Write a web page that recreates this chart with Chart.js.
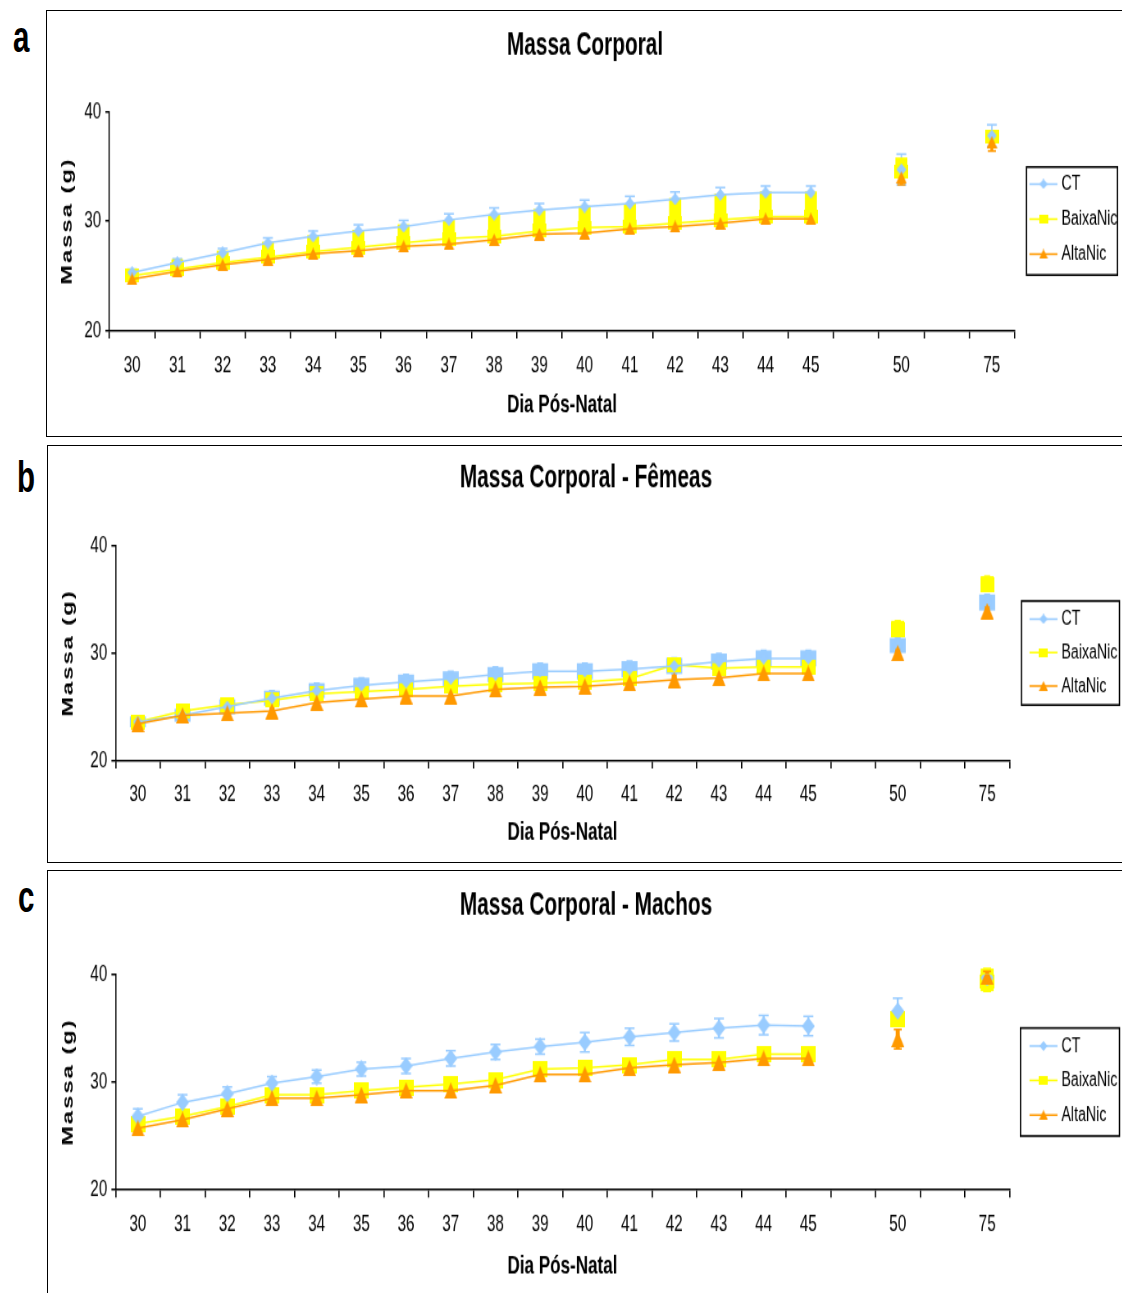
<!DOCTYPE html>
<html>
<head>
<meta charset="utf-8">
<title>Massa Corporal</title>
<script src="https://cdn.jsdelivr.net/npm/chart.js@4.4.0/dist/chart.umd.min.js"></script>
<style>
  html, body { margin: 0; padding: 0; background: #fff; overflow: hidden; }
  body { width: 1122px; height: 1293px; position: relative; font-family: "Liberation Sans", Arial, sans-serif; }
  .panel { position: absolute; width: 1076px; border: 1.5px solid #000; background: #fff; overflow: hidden; }
  /* o gráfico é desenhado largo e comprimido na horizontal (letra estreita) */
  .stretch { transform: scale(0.8201, 1.25); transform-origin: 0 0; }
  .tag { position: absolute; font-weight: bold; font-size: 36px; line-height: 36px; transform: scale(0.82, 1.25); transform-origin: 0 0; }
</style>
</head>
<body>
<div class="tag" style="left:13px; top:14px;">a</div>
<div class="tag" style="left:17px; top:454px;">b</div>
<div class="tag" style="left:18px; top:874px;">c</div>

<div class="panel" style="left:46px; top:10px; height:425px;">
  <div class="stretch"><canvas id="chartGeral" width="1312" height="340"></canvas></div>
</div>
<div class="panel" style="left:47px; top:445px; height:416px;">
  <div class="stretch"><canvas id="chartFemeas" width="1312" height="333"></canvas></div>
</div>
<div class="panel" style="left:47px; top:870px; height:430px;">
  <div class="stretch"><canvas id="chartMachos" width="1312" height="344"></canvas></div>
</div>

<script>
// dias pós-natal (categorias vazias separam 45, 50 e 75)
const dias = ['30', '31', '32', '33', '34', '35', '36', '37', '38', '39', '40', '41', '42', '43', '44', '45', '', '50', '', '75'];
const series = ['CT', 'BaixaNic', 'AltaNic'];

// a - todos os animais (média e erro)
const ctGeral = [25.3, 26.2, 27.1, 28.0, 28.6, 29.1, 29.5, 30.1, 30.6, 31.0, 31.3, 31.6, 32.0, 32.4, 32.6, 32.6, null, 34.7, null, 37.8];
const ctGeralErr = [0.3, 0.35, 0.4, 0.45, 0.5, 0.55, 0.55, 0.55, 0.6, 0.6, 0.6, 0.65, 0.65, 0.65, 0.6, 0.6, null, 1.4, null, 1.0];
const baixaGeral = [25.0, 25.6, 26.2, 26.7, 27.2, 27.6, 28.0, 28.4, 28.6, 29.1, 29.4, 29.5, 29.8, 30.1, 30.4, 30.4, null, 34.5, null, 37.7];
const baixaGeralErr = [0.4, 0.9, 1.1, 1.4, 1.5, 1.6, 1.7, 1.7, 2.0, 2.0, 2.0, 2.1, 2.3, 2.4, 2.3, 2.3, null, 1.3, null, 0.5];
const altaGeral = [24.7, 25.4, 26.0, 26.5, 27.0, 27.3, 27.7, 27.9, 28.3, 28.8, 28.9, 29.3, 29.5, 29.8, 30.2, 30.2, null, 34.0, null, 37.2];
const altaGeralErr = [0.35, 0.35, 0.35, 0.4, 0.4, 0.4, 0.4, 0.4, 0.4, 0.45, 0.45, 0.45, 0.45, 0.45, 0.45, 0.45, null, 0.7, null, 0.8];

// b - fêmeas
const ctFemeas = [23.6, 24.2, 25.0, 25.8, 26.5, 27.0, 27.3, 27.6, 28.0, 28.3, 28.3, 28.5, 28.8, 29.2, 29.5, 29.5, null, 30.7, null, 34.7];
const ctFemeasErr = [0.5, 0.6, 0.7, 0.7, 0.7, 0.7, 0.7, 0.7, 0.7, 0.75, 0.75, 0.75, 0.75, 0.75, 0.75, 0.75, null, 0.7, null, 0.75];
const baixaFemeas = [23.6, 24.6, 25.2, 25.6, 26.2, 26.4, 26.6, 26.9, 27.1, 27.2, 27.3, 27.6, 28.9, 28.6, 28.7, 28.7, null, 32.2, null, 36.3];
const baixaFemeasErr = [0.35, 0.4, 0.4, 0.4, 0.4, 0.4, 0.4, 0.4, 0.4, 0.4, 0.4, 0.4, 0.4, 0.4, 0.4, 0.4, null, 0.8, null, 0.85];
const altaFemeas = [23.4, 24.2, 24.4, 24.6, 25.4, 25.7, 26.0, 26.0, 26.6, 26.8, 26.9, 27.2, 27.5, 27.7, 28.1, 28.1, null, 30.0, null, 33.9];
const altaFemeasErr = [0.5, 0.5, 0.5, 0.5, 0.5, 0.5, 0.5, 0.5, 0.5, 0.5, 0.5, 0.5, 0.5, 0.5, 0.5, 0.5, null, 0.5, null, 0.5];

// c - machos
const ctMachos = [26.8, 28.1, 28.9, 29.9, 30.5, 31.2, 31.5, 32.2, 32.8, 33.3, 33.7, 34.2, 34.6, 35.0, 35.3, 35.2, null, 36.6, null, 39.7];
const ctMachosErr = [0.7, 0.7, 0.65, 0.6, 0.6, 0.65, 0.7, 0.7, 0.7, 0.7, 0.9, 0.8, 0.8, 0.9, 0.9, 0.9, null, 1.2, null, 0.5];
const baixaMachos = [26.1, 26.8, 27.7, 28.8, 28.8, 29.2, 29.5, 29.8, 30.2, 31.2, 31.3, 31.6, 32.1, 32.1, 32.6, 32.6, null, 35.9, null, 39.5];
const baixaMachosErr = [0.5, 0.5, 0.5, 0.5, 0.5, 0.5, 0.5, 0.5, 0.5, 0.5, 0.5, 0.5, 0.5, 0.5, 0.5, 0.5, null, 0.5, null, 1.05];
const altaMachos = [25.7, 26.5, 27.5, 28.5, 28.5, 28.8, 29.2, 29.2, 29.7, 30.7, 30.7, 31.3, 31.6, 31.8, 32.2, 32.2, null, 34.0, null, 39.8];
const altaMachosErr = [0.45, 0.45, 0.45, 0.45, 0.45, 0.45, 0.45, 0.45, 0.45, 0.45, 0.45, 0.45, 0.45, 0.45, 0.45, 0.45, null, 0.9, null, 0.5];

const FONT = '"Liberation Sans", Arial, sans-serif';
const SX = 1076 / 1312, SY = 1.25;   // escala do canvas na página
const W = 1312;
const cores = ['#99CCFF', '#FFFF00', '#FF9900'];
const formas = ['diamond', 'square', 'triangle'];

// marcador com tamanho dado em pixels da página
function marker(shape, w, h, color) {
  const c = document.createElement('canvas');
  const cw = Math.max(2, Math.round(w / SX)), ch = Math.max(2, Math.round(h / SY));
  c.width = cw;
  c.height = ch;
  const g = c.getContext('2d');
  g.fillStyle = color;
  g.beginPath();
  if (shape === 'diamond') {
    g.moveTo(cw / 2, 0); g.lineTo(cw, ch / 2); g.lineTo(cw / 2, ch); g.lineTo(0, ch / 2);
  } else if (shape === 'square') {
    g.rect(0, 0, cw, ch);
  } else {
    g.moveTo(cw / 2, 0); g.lineTo(cw, ch); g.lineTo(0, ch);
  }
  g.closePath();
  g.fill();
  return c;
}
const legendMarks = [marker('diamond', 8, 10, cores[0]), marker('square', 9, 9, cores[1]), marker('triangle', 9, 10, cores[2])];

// barras de erro desenhadas antes das linhas
const errorBars = {
  id: 'errorBars',
  beforeDatasetsDraw(chart) {
    const ctx = chart.ctx;
    const yScale = chart.scales.y;
    chart.data.datasets.forEach((ds, i) => {
      if (!ds.errors) return;
      const meta = chart.getDatasetMeta(i);
      ctx.save();
      ctx.fillStyle = ds.borderColor;
      ctx.strokeStyle = ds.borderColor;
      ctx.lineWidth = 1.5;
      meta.data.forEach((pt, j) => {
        const v = ds.data[j], e = ds.errors[j];
        if (v == null || e == null) return;
        const hi = ds.errDir === 'minus' ? v : v + e;
        const lo = ds.errDir === 'plus' ? v : v - e;
        const yTop = yScale.getPixelForValue(hi);
        const yBot = yScale.getPixelForValue(lo);
        const w = ds.errWidth / SX;
        const cap = ds.capWidth / SX;
        ctx.fillRect(pt.x - w / 2, yTop, w, yBot - yTop);
        if (cap) {
          ctx.beginPath();
          if (ds.errDir !== 'minus') { ctx.moveTo(pt.x - cap / 2, yTop); ctx.lineTo(pt.x + cap / 2, yTop); }
          if (ds.errDir !== 'plus') { ctx.moveTo(pt.x - cap / 2, yBot); ctx.lineTo(pt.x + cap / 2, yBot); }
          ctx.stroke();
        }
      });
      ctx.restore();
    });
  }
};

// legenda com moldura, linha e marcador (medidas em pixels da página)
const boxLegend = {
  id: 'boxLegend',
  afterDraw(chart, args, opts) {
    const { ctx, chartArea } = chart;
    const x0 = chartArea.right + opts.gap / SX;
    const h = opts.height / SY;
    const y0 = (chartArea.top + chartArea.bottom) / 2 - h / 2;
    ctx.save();
    ctx.fillStyle = '#fff';
    ctx.fillRect(x0, y0, opts.width / SX, h);
    ctx.strokeStyle = '#000';
    ctx.lineWidth = 1.6;
    ctx.strokeRect(x0, y0, opts.width / SX, h);
    ctx.font = '17.3px ' + FONT;
    ctx.textBaseline = 'middle';
    chart.data.datasets.forEach((ds, i) => {
      const y = y0 + (opts.first + i * opts.step) / SY;
      const lx = x0 + opts.inset / SX;
      ctx.strokeStyle = ds.borderColor;
      ctx.lineWidth = 1.5;
      ctx.beginPath();
      ctx.moveTo(lx, y);
      ctx.lineTo(lx + 28 / SX, y);
      ctx.stroke();
      Chart.helpers.drawPoint(ctx, { pointStyle: legendMarks[i], radius: 4, rotation: 0, borderWidth: 0 }, lx + 14 / SX, y);
      ctx.fillStyle = '#000';
      ctx.fillText(ds.label, lx + 32 / SX, y);
    });
    ctx.restore();
  }
};

// título do eixo y com espaçamento entre letras
const yTitle = {
  id: 'yTitle',
  afterDraw(chart, args, opts) {
    const { ctx, chartArea } = chart;
    ctx.save();
    ctx.translate(opts.x / SX, (chartArea.top + chartArea.bottom) / 2);
    ctx.rotate(-Math.PI / 2);
    ctx.font = 'bold 19px ' + FONT;
    ctx.letterSpacing = '1.6px';
    ctx.fillStyle = '#000';
    ctx.textAlign = 'center';
    ctx.textBaseline = 'middle';
    ctx.fillText(opts.text, 0, 0);
    ctx.restore();
  }
};

function makeChart(id, p) {
  const plotTop = p.plotTop / SY, plotBottom = p.plotBottom / SY;
  const xh = p.height - plotBottom;
  const titleY = p.titleY / SY, xTitleY = p.xTitleY / SY;
  const datasets = p.values.map((vals, i) => ({
    label: series[i],
    data: vals,
    errors: p.errors[i],
    errDir: p.errStyle[i].dir,
    errWidth: p.errStyle[i].w,
    capWidth: p.errStyle[i].cap,
    borderColor: cores[i],
    backgroundColor: cores[i],
    pointStyle: marker(formas[i], p.marks[i][0], p.marks[i][1], cores[i]),
    pointRadius: 5,
    borderWidth: 1.5,
    tension: 0,
    spanGaps: false,
    order: [1, 2, 0][i]
  }));
  return new Chart(document.getElementById(id), {
    type: 'line',
    data: { labels: dias, datasets: datasets },
    options: {
      responsive: false,
      animation: false,
      devicePixelRatio: 1,
      events: [],
      plugins: {
        legend: { display: false },
        tooltip: { enabled: false },
        title: {
          display: true,
          text: p.title,
          color: '#000',
          font: { family: FONT, size: 25.4, weight: 'bold', lineHeight: 1.2 },
          padding: { top: titleY - 15.24, bottom: plotTop - titleY - 15.24 }
        },
        boxLegend: p.legend,
        yTitle: { x: p.yTitleX, text: 'Massa (g)' }
      },
      scales: {
        x: {
          type: 'category',
          offset: true,
          grid: { offset: true, drawOnChartArea: false, tickLength: 6.5, color: '#000', lineWidth: 1.6 },
          border: { color: '#000', width: 1.5 },
          ticks: { color: '#000', font: { family: FONT, size: 18.6 }, padding: p.tickPad, maxRotation: 0, autoSkip: false },
          title: {
            display: true,
            text: 'Dia Pós-Natal',
            color: '#000',
            font: { family: FONT, size: 20.8, weight: 'bold', lineHeight: 1.2 },
            padding: { top: 0, bottom: p.height - 12.48 - xTitleY }
          },
          afterFit: s => { s.height = xh; }
        },
        y: {
          min: 20,
          max: 40,
          ticks: { stepSize: 10, color: '#000', font: { family: FONT, size: 18.6 }, padding: 5 },
          grid: { drawOnChartArea: false, tickLength: 5, color: '#000', lineWidth: 1.5 },
          border: { color: '#000', width: 1.5 },
          afterFit: s => { s.width = p.plotLeft / SX; }
        },
        // eixo vazio à direita: reserva o espaço da legenda
        reserva: {
          type: 'linear',
          position: 'right',
          grid: { display: false },
          border: { display: false },
          ticks: { display: false },
          afterFit: s => { s.width = W - p.plotRight / SX; }
        }
      }
    },
    plugins: [errorBars, boxLegend, yTitle]
  });
}

makeChart('chartGeral', {
  title: 'Massa Corporal',
  height: 340, plotTop: 100.5, plotBottom: 319.5, plotLeft: 62.5, plotRight: 967.5,
  titleY: 35, xTitleY: 394.5, yTitleX: 20, tickPad: 10.6,
  legend: { gap: 12, width: 91, height: 108, inset: 3, first: 17, step: 35 },
  values: [ctGeral, baixaGeral, altaGeral],
  errors: [ctGeralErr, baixaGeralErr, altaGeralErr],
  errStyle: [{ dir: 'both', w: 1.5, cap: 10 }, { dir: 'plus', w: 12, cap: 0 }, { dir: 'both', w: 3, cap: 8 }],
  marks: [[10, 13], [14, 14], [11, 13]]
});

makeChart('chartFemeas', {
  title: 'Massa Corporal - Fêmeas',
  height: 333, plotTop: 99.5, plotBottom: 314.5, plotLeft: 67.5, plotRight: 961.5,
  titleY: 33, xTitleY: 387, yTitleX: 20, tickPad: 10,
  legend: { gap: 12, width: 98, height: 104, inset: 8, first: 18, step: 33.5 },
  values: [ctFemeas, baixaFemeas, altaFemeas],
  errors: [ctFemeasErr, baixaFemeasErr, altaFemeasErr],
  errStyle: [{ dir: 'both', w: 16, cap: 6 }, { dir: 'plus', w: 13, cap: 6 }, { dir: 'both', w: 5, cap: 0 }],
  marks: [[10, 12], [14, 15], [13, 16]]
});

makeChart('chartMachos', {
  title: 'Massa Corporal - Machos',
  height: 344, plotTop: 103.5, plotBottom: 318.5, plotLeft: 67.5, plotRight: 961.5,
  titleY: 35, xTitleY: 395, yTitleX: 20, tickPad: 10.4,
  legend: { gap: 11, width: 99, height: 108, inset: 9, first: 18, step: 34.5 },
  values: [ctMachos, baixaMachos, altaMachos],
  errors: [ctMachosErr, baixaMachosErr, altaMachosErr],
  errStyle: [{ dir: 'both', w: 2, cap: 10 }, { dir: 'both', w: 13, cap: 8 }, { dir: 'both', w: 4, cap: 8 }],
  marks: [[13, 17], [15, 16], [13, 16]]
});
</script>
</body>
</html>
